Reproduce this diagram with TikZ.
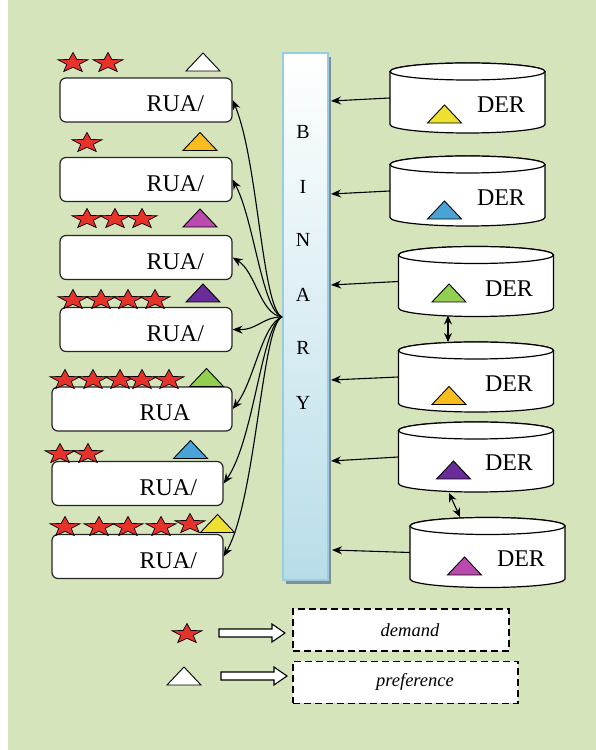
\documentclass[tikz,border=0pt]{standalone}
\usepackage{fontspec}
\setmainfont{Liberation Serif}
\usetikzlibrary{shapes.geometric,arrows.meta}

\definecolor{bggreen}{RGB}{214,228,188}
\definecolor{starred}{RGB}{230,50,40}
\definecolor{binblue}{RGB}{184,221,232}
\definecolor{binedge}{RGB}{150,205,225}
\definecolor{binshadow}{RGB}{128,142,150}
\definecolor{tOrange}{RGB}{248,188,28}
\definecolor{tMagenta}{RGB}{187,74,174}
\definecolor{tPurple}{RGB}{106,44,154}
\definecolor{tGreen}{RGB}{146,207,80}
\definecolor{tBlue}{RGB}{74,163,214}
\definecolor{tYellow}{RGB}{238,224,48}

\tikzset{
  rua/.style={draw=black!85, line width=1.2pt, fill=white, rounded corners=6pt, minimum height=44pt, inner sep=0pt},
  ruatext/.style={font=\fontsize{24}{28}\selectfont, anchor=base west, inner sep=0pt},
  dertext/.style={font=\fontsize{24}{28}\selectfont, inner sep=0pt},
  bintext/.style={font=\fontsize{20}{24}\selectfont, inner sep=0pt},
  binbar/.style={draw=binedge, line width=1.5pt, top color=white, bottom color=binblue, minimum width=45pt, minimum height=527pt, inner sep=0pt},
  can/.style={draw=black, line width=1.2pt, fill=white},
  rstar/.style={star, star points=5, star point ratio=2.4, draw=black, line width=0.7pt, fill=starred, minimum size=21pt, inner sep=0pt, xscale=1.5},
  tri/.style={draw=black, line width=0.9pt},
  arr/.style={line width=1.1pt, -{Stealth[length=10pt, width=8pt]}},
  darr/.style={line width=1.1pt, {Stealth[length=9pt, width=8pt]}-{Stealth[length=9pt, width=8pt]}},
  keybox/.style={draw=black, line width=1.6pt, dash pattern=on 7pt off 4pt, fill=white, minimum height=42pt, inner sep=0pt},
  keytext/.style={font=\itshape\fontsize{18.5}{22}\selectfont, inner sep=0pt},
  blockarr/.style={draw=black, line width=1.1pt, fill=white},
}

% preference triangle: centre, colour
\newcommand{\prefmark}[2]{\draw[tri, fill=#2] #1 +(-17,-9) -- +(17,-9) -- +(0,9) -- cycle;}
% open block arrow of the key, from its left end
\newcommand{\keyarrow}[1]{\draw[blockarr] #1 +(0,-4) -- +(53,-4) -- +(53,-9) -- +(66,0) -- +(53,9) -- +(53,4) -- +(0,4) -- cycle;}
% DER drum: name, centre
\newcommand{\dercan}[2]{%
  \begin{scope}[shift={#2}]
    \filldraw[can] (-77.5,26.5) -- (-77.5,-26.5) arc[start angle=180, end angle=360, x radius=77.5, y radius=8.5] -- (77.5,26.5) arc[start angle=0, end angle=180, x radius=77.5, y radius=8.5] -- cycle;
    \draw[can] (0,26.5) ellipse [x radius=77.5, y radius=8.5];
    \coordinate (#1) at (0,0);
    \coordinate (#1w) at (-77.5,0);
  \end{scope}}

\begin{document}
\begin{tikzpicture}[x=1pt, y=1pt]
\useasboundingbox (0,0) rectangle (596,750);
\fill[bggreen] (8,0) rectangle (596,750);

% RUA boxes
\node[rua, minimum width=172pt] (r1) at (146,650) {};
\node[rua, minimum width=172pt] (r2) at (146,570.5) {};
\node[rua, minimum width=172pt] (r3) at (146,492.5) {};
\node[rua, minimum width=172pt] (r4) at (146,420.5) {};
\node[rua, minimum width=180pt] (r5) at (142,341) {};
\node[rua, minimum width=171pt] (r6) at (137.5,266.5) {};
\node[rua, minimum width=171pt] (r7) at (137.5,193.5) {};
\node[ruatext] (t1) at ([xshift=87pt, yshift=-12pt]r1.west) {RUA/};
\node[ruatext] (t2) at ([xshift=87pt, yshift=-12pt]r2.west) {RUA/};
\node[ruatext] (t3) at ([xshift=87pt, yshift=-12pt]r3.west) {RUA/};
\node[ruatext] (t4) at ([xshift=87pt, yshift=-12pt]r4.west) {RUA/};
\node[ruatext] (t5) at ([xshift=88pt, yshift=-12pt]r5.west) {RUA};
\node[ruatext] (t6) at ([xshift=88pt, yshift=-12pt]r6.west) {RUA/};
\node[ruatext] (t7) at ([xshift=88pt, yshift=-12pt]r7.west) {RUA/};

% demand stars
\node[rstar] (s1a) at (73,687) {};
\node[rstar] (s1b) at (108,687) {};
\node[rstar] (s2a) at (87,607) {};
\node[rstar] (s3a) at (87,531) {};
\node[rstar] (s3b) at (115,531) {};
\node[rstar] (s3c) at (142,531) {};
\node[rstar] (s4a) at (73,450) {};
\node[rstar] (s4b) at (101,450) {};
\node[rstar] (s4c) at (128,450) {};
\node[rstar] (s4d) at (155,450) {};
\node[rstar] (s5a) at (65,370) {};
\node[rstar] (s5b) at (93,370) {};
\node[rstar] (s5c) at (120,370) {};
\node[rstar] (s5d) at (142,370) {};
\node[rstar] (s5e) at (169,370) {};
\node[rstar] (s6a) at (60,296) {};
\node[rstar] (s6b) at (88,296) {};
\node[rstar] (s7a) at (65,223) {};
\node[rstar] (s7b) at (99,223) {};
\node[rstar] (s7c) at (128,223) {};
\node[rstar] (s7d) at (161,223) {};
\node[rstar] (s7e) at (190,226) {};

% preference triangles
\prefmark{(203,688)}{white}
\prefmark{(200,608.5)}{tOrange}
\prefmark{(200,532)}{tMagenta}
\prefmark{(203,457)}{tPurple}
\prefmark{(206.5,372.5)}{tGreen}
\prefmark{(190.5,300.5)}{tBlue}
\prefmark{(217.5,226.5)}{tYellow}

% BINARY bar
\fill[binshadow] (286,166) rectangle (331,693);
\node[binbar] (bin) at (305.5,433.5) {};
\node[bintext] (bl1) at (303,618) {B};
\node[bintext] (bl2) at (303,563) {I};
\node[bintext] (bl3) at (303,510) {N};
\node[bintext] (bl4) at (303,455) {A};
\node[bintext] (bl5) at (303,402) {R};
\node[bintext] (bl6) at (303,347) {Y};

% fan out to the RUAs
\coordinate (hub) at (282,433);
\draw[arr] (hub) .. controls (262,442) and (258,590) .. (r1.east);
\draw[arr] (hub) .. controls (262,440) and (254,530) .. (r2.east);
\draw[arr] (hub) .. controls (260,436) and (256,478) .. (r3.east);
\draw[arr] (hub) .. controls (262,433) and (258,420) .. (r4.east);
\draw[arr] (hub) .. controls (262,426) and (254,368) .. (r5.east);
\draw[arr] (hub) .. controls (262,426) and (254,310) .. (r6.east);
\draw[arr] (hub) .. controls (262,426) and (256,250) .. (r7.east);

% DER drums
\dercan{d1}{(467.5,652)}
\dercan{d2}{(467.5,559)}
\dercan{d3}{(476,468.5)}
\dercan{d4}{(476,373)}
\dercan{d5}{(476,293)}
\dercan{d6}{(487.5,197.5)}
\node[dertext] (e1) at (501,645) {DER};
\node[dertext] (e2) at (501,552) {DER};
\node[dertext] (e3) at (509,461) {DER};
\node[dertext] (e4) at (509,366) {DER};
\node[dertext] (e5) at (509,287) {DER};
\node[dertext] (e6) at (521,191) {DER};
\prefmark{(444.5,636)}{tYellow}
\prefmark{(444.5,540)}{tBlue}
\prefmark{(449,457)}{tGreen}
\prefmark{(449,354.5)}{tOrange}
\prefmark{(453.5,280)}{tPurple}
\prefmark{(464.5,184)}{tMagenta}

% DER -> bar
\coordinate (b1) at (331,649);
\coordinate (b2) at (331,556);
\coordinate (b3) at (331,465);
\coordinate (b4) at (331,370);
\coordinate (b5) at (331,289);
\coordinate (b6) at (332,200);
\draw[arr] (d1w) -- (b1);
\draw[arr] (d2w) -- (b2);
\draw[arr] (d3w) -- (b3);
\draw[arr] (d4w) -- (b4);
\draw[arr] (d5w) -- (b5);
\draw[arr] (d6w) -- (b6);
\draw[darr] ([shift={(-28,-34)}]d3) -- ([shift={(-28,35)}]d4);
\draw[darr] ([shift={(-27,-36)}]d5) -- ([shift={(-27.5,35.5)}]d6);

% key
\node[rstar] (ls) at (187,116) {};
\prefmark{(184,74)}{white}
\keyarrow{(219,117)}
\keyarrow{(221,74)}
\node[keybox, minimum width=216pt] (kd) at (401,120) {};
\node[keybox, minimum width=225pt] (kp) at (405.5,67.5) {};
\node[keytext] (kdt) at (410,120) {demand};
\node[keytext] (kpt) at (415,68) {preference};
\end{tikzpicture}
\end{document}
